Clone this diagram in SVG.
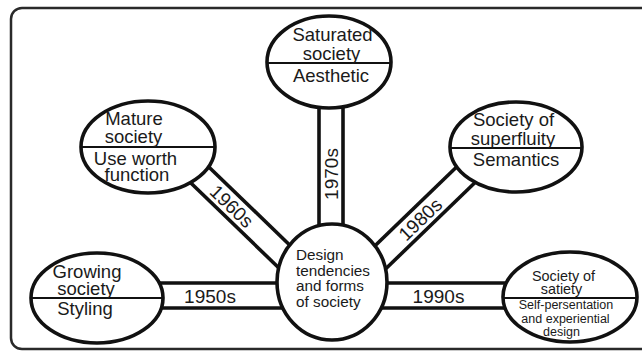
<svg xmlns="http://www.w3.org/2000/svg" width="642" height="355" viewBox="0 0 642 355">
<style>
.frame{fill:none;stroke:#2a2a2a;stroke-width:2.5}
.band{stroke:#111;stroke-width:3.6;fill:none}
.node{fill:#fff;stroke:#111;stroke-width:3.6}
.div{stroke:#111;stroke-width:2}
text{font-family:"Liberation Sans",Arial,sans-serif;fill:#1a1a1a}
.t{font-size:18.5px;text-anchor:middle}
.yr{font-size:19px;text-anchor:middle}
.c{font-size:15.3px}
.s1{font-size:14.4px;text-anchor:middle}
.s2{font-size:12.5px;text-anchor:middle}
</style>
<rect width="642" height="355" fill="#fff"/>
<rect class="frame" x="11" y="8" width="650" height="341" rx="11"/>
<g id="connectors">
  <g id="c1950">
    <line class="band" x1="150" y1="283" x2="290" y2="283"/>
    <line class="band" x1="150" y1="308" x2="290" y2="308"/>
    <text class="yr" x="210" y="302.5">1950s</text>
  </g>
  <g id="c1990">
    <line class="band" x1="375" y1="283" x2="515" y2="283"/>
    <line class="band" x1="375" y1="308" x2="515" y2="308"/>
    <text class="yr" x="438.5" y="302.5">1990s</text>
  </g>
  <g id="c1970">
    <line class="band" x1="319" y1="95" x2="319" y2="240"/>
    <line class="band" x1="343" y1="95" x2="343" y2="240"/>
    <text class="yr" transform="translate(331,174) rotate(-90)" y="7">1970s</text>
  </g>
  <g id="c1960" transform="translate(232,206) rotate(44)">
    <line class="band" x1="-60" y1="-12" x2="80" y2="-12"/>
    <line class="band" x1="-60" y1="12" x2="80" y2="12"/>
    <text class="yr" x="0" y="7">1960s</text>
  </g>
  <g id="c1980" transform="translate(420,219) rotate(-44)">
    <line class="band" x1="-75" y1="-12" x2="75" y2="-12"/>
    <line class="band" x1="-75" y1="12" x2="75" y2="12"/>
    <text class="yr" x="0" y="7">1980s</text>
  </g>
</g>
<g id="center">
  <ellipse class="node" cx="332" cy="282" rx="55" ry="58"/>
  <text class="c" x="296" y="260">Design</text>
  <text class="c" x="296" y="275.5">tendencies</text>
  <text class="c" x="296" y="291">and forms</text>
  <text class="c" x="296" y="306.5">of society</text>
</g>
<g id="growing">
  <ellipse class="node" cx="97" cy="298" rx="66" ry="45"/>
  <line class="div" x1="31" y1="298" x2="163" y2="298"/>
  <text class="t" x="87" y="278">Growing</text>
  <text class="t" x="86" y="295">society</text>
  <text class="t" x="85" y="315">Styling</text>
</g>
<g id="mature">
  <ellipse class="node" cx="148" cy="147" rx="67" ry="46"/>
  <line class="div" x1="81" y1="147" x2="215" y2="147"/>
  <text class="t" x="134" y="125">Mature</text>
  <text class="t" x="133.5" y="143">society</text>
  <text class="t" x="135.5" y="164.5">Use worth</text>
  <text class="t" x="137" y="181">function</text>
</g>
<g id="saturated">
  <ellipse class="node" cx="329" cy="62" rx="62" ry="46"/>
  <line class="div" x1="267" y1="63" x2="391" y2="63"/>
  <text class="t" x="332.5" y="41">Saturated</text>
  <text class="t" x="331.5" y="60">society</text>
  <text class="t" x="331" y="82">Aesthetic</text>
</g>
<g id="superfluity">
  <ellipse class="node" cx="516" cy="147" rx="66" ry="45"/>
  <line class="div" x1="450" y1="148" x2="582" y2="148"/>
  <text class="t" x="513.5" y="126">Society of</text>
  <text class="t" x="513" y="145">superfluity</text>
  <text class="t" x="516" y="166">Semantics</text>
</g>
<g id="satiety">
  <ellipse class="node" cx="570" cy="297" rx="67" ry="45"/>
  <line class="div" x1="503" y1="298" x2="637" y2="298"/>
  <text class="s1" x="563.5" y="281">Society of</text>
  <text class="s1" x="561.5" y="294">satiety</text>
  <text class="s2" x="566" y="309">Self-persentation</text>
  <text class="s2" x="565.5" y="322.5">and experiential</text>
  <text class="s2" x="561.5" y="336">design</text>
</g>
</svg>
